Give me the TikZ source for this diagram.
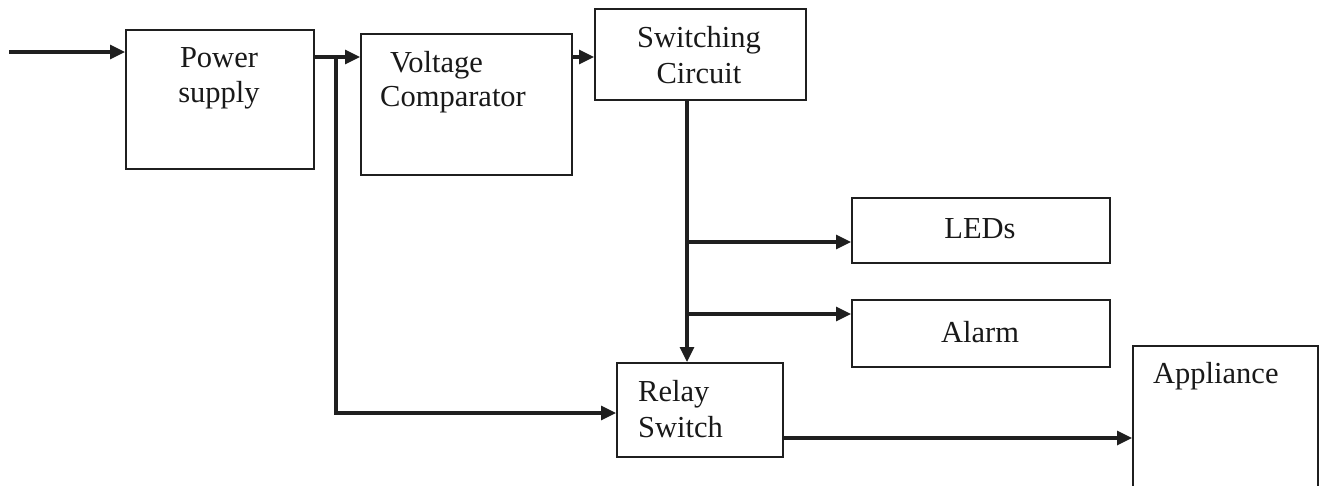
\documentclass[tikz,border=0pt]{standalone}
\usepackage{fontspec}
\setmainfont{Liberation Serif}
\usetikzlibrary{arrows.meta}
\begin{document}
\begin{tikzpicture}[x=1pt,y=-1pt,
 box/.style={draw=black!88, line width=2.2pt, rectangle, anchor=north west, inner sep=0pt},
 txt/.style={font=\fontsize{30.5}{36}\selectfont, inner sep=0pt, text=black!90},
 conn/.style={draw=black!88, line width=3.2pt, -{Triangle[length=15pt,width=14pt]}}]
\clip (0,0) rectangle (1319,485);
\useasboundingbox (0,0) rectangle (1319,485);
\fill[white] (0,0) rectangle (1319,485);
% boxes
\node[box, minimum width=188pt, minimum height=139pt] (ps) at (125,29) {};
\node[box, minimum width=211pt, minimum height=141pt] (vc) at (360,33) {};
\node[box, minimum width=211pt, minimum height=91pt] (sc) at (594,8) {};
\node[box, minimum width=258pt, minimum height=65pt] (led) at (851,197) {};
\node[box, minimum width=258pt, minimum height=67pt] (alarm) at (851,299) {};
\node[box, minimum width=166pt, minimum height=94pt] (relay) at (616,362) {};
\node[box, minimum width=185pt, minimum height=160pt] (app) at (1132,345) {};
% texts
\node[txt, anchor=base] (tps1) at (219,67) {Power};
\node[txt, anchor=base] (tps2) at (219,102) {supply};
\node[txt, anchor=base west] (tvc1) at (390,72) {Voltage};
\node[txt, anchor=base west] (tvc2) at (380,106) {Comparator};
\node[txt, anchor=base] (tsc1) at (699,47) {Switching};
\node[txt, anchor=base] (tsc2) at (699,83) {Circuit};
\node[txt, anchor=base] (tled) at (980,238) {LEDs};
\node[txt, anchor=base] (tal) at (980,342) {Alarm};
\node[txt, anchor=base west] (tr1) at (638,401) {Relay};
\node[txt, anchor=base west] (tr2) at (638,437) {Switch};
\node[txt, anchor=base west] (tapp) at (1153,383) {Appliance};
% connectors
\coordinate (in) at (9,52);
\coordinate (j1) at (336,57);
\coordinate (j2) at (336,413);
\coordinate (k) at (687,99);
\coordinate (k1) at (687,242);
\coordinate (k2) at (687,314);
\coordinate (r) at (782,438);
\draw[conn] (in) -- (in -| ps.west);
\draw[conn] (ps.east |- j1) -- (vc.west |- j1);
\draw[conn] (j1) -- (j2) -- (j2 -| relay.west);
\draw[conn] (vc.east |- j1) -- (sc.west |- j1);
\draw[conn] (sc.south -| k) -- (relay.north -| k);
\draw[conn] (k1) -- (k1 -| led.west);
\draw[conn] (k2) -- (k2 -| alarm.west);
\draw[conn] (relay.east |- r) -- (app.west |- r);
\end{tikzpicture}
\end{document}
